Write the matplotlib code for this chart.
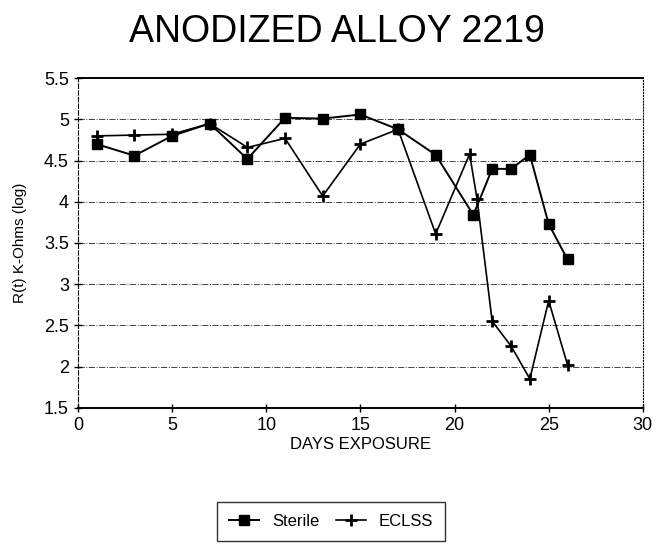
import matplotlib.pyplot as plt

# data
sterile_days = [1, 3, 5, 7, 9, 11, 13, 15, 17, 19, 21, 22, 23, 24, 25, 26]
sterile_vals = [4.70, 4.56, 4.80, 4.95, 4.52, 5.02, 5.01, 5.06, 4.88, 4.57,
                3.84, 4.40, 4.40, 4.57, 3.73, 3.30]

eclss_days = [1, 3, 5, 7, 9, 11, 13, 15, 17, 19, 20.8, 21.2, 22, 23, 24, 25, 26]
eclss_vals = [4.80, 4.81, 4.82, 4.95, 4.66, 4.77, 4.07, 4.70, 4.88, 3.61,
              4.58, 4.03, 2.55, 2.25, 1.85, 2.80, 2.02]

x_ticks = [0, 5, 10, 15, 20, 25, 30]
y_ticks = [1.5, 2, 2.5, 3, 3.5, 4, 4.5, 5, 5.5]

plt.rcParams['font.family'] = ['Liberation Sans', 'DejaVu Sans']

fig = plt.figure(figsize=(6.6, 5.51), dpi=100)
ax = fig.add_axes([0.118, 0.26, 0.856, 0.598])

ax.plot(sterile_days, sterile_vals, color='black', lw=1.4, marker='s',
        markersize=7, label='Sterile')
ax.plot(eclss_days, eclss_vals, color='black', lw=1.2, marker='+',
        markersize=8, markeredgewidth=2, label='ECLSS')

ax.set_xlim(0, 30)
ax.set_ylim(1.5, 5.5)
ax.set_xticks(x_ticks)
ax.set_yticks(y_ticks)
ax.set_yticklabels(['1.5', '2', '2.5', '3', '3.5', '4', '4.5', '5', '5.5'])
ax.tick_params(direction='inout', length=6, labelsize=13, width=1)

# dash-dot gridlines like the original
for v in y_ticks[1:-1]:
    ax.axhline(v, color='#444444', lw=0.7, ls='-.', zorder=0)

ax.spines['top'].set_linewidth(1.4)
ax.spines['bottom'].set_linewidth(1.4)
ax.spines['left'].set_linestyle((0, (4, 2)))
ax.spines['right'].set_linestyle(':')

fig.suptitle('ANODIZED ALLOY 2219', fontsize=27, x=0.51, y=0.975)
ax.set_xlabel('DAYS EXPOSURE', fontsize=12, labelpad=2)
ax.set_ylabel('R(t) K-Ohms (log)', fontsize=11, labelpad=12)

leg = ax.legend(loc='center', bbox_to_anchor=(0.448, -0.345), ncol=2,
                frameon=True, fancybox=False, edgecolor='black',
                fontsize=12, handlelength=1.8, columnspacing=1.0,
                borderpad=0.7)
leg.get_frame().set_linewidth(1.0)

fig.savefig('out.png', dpi=100)
